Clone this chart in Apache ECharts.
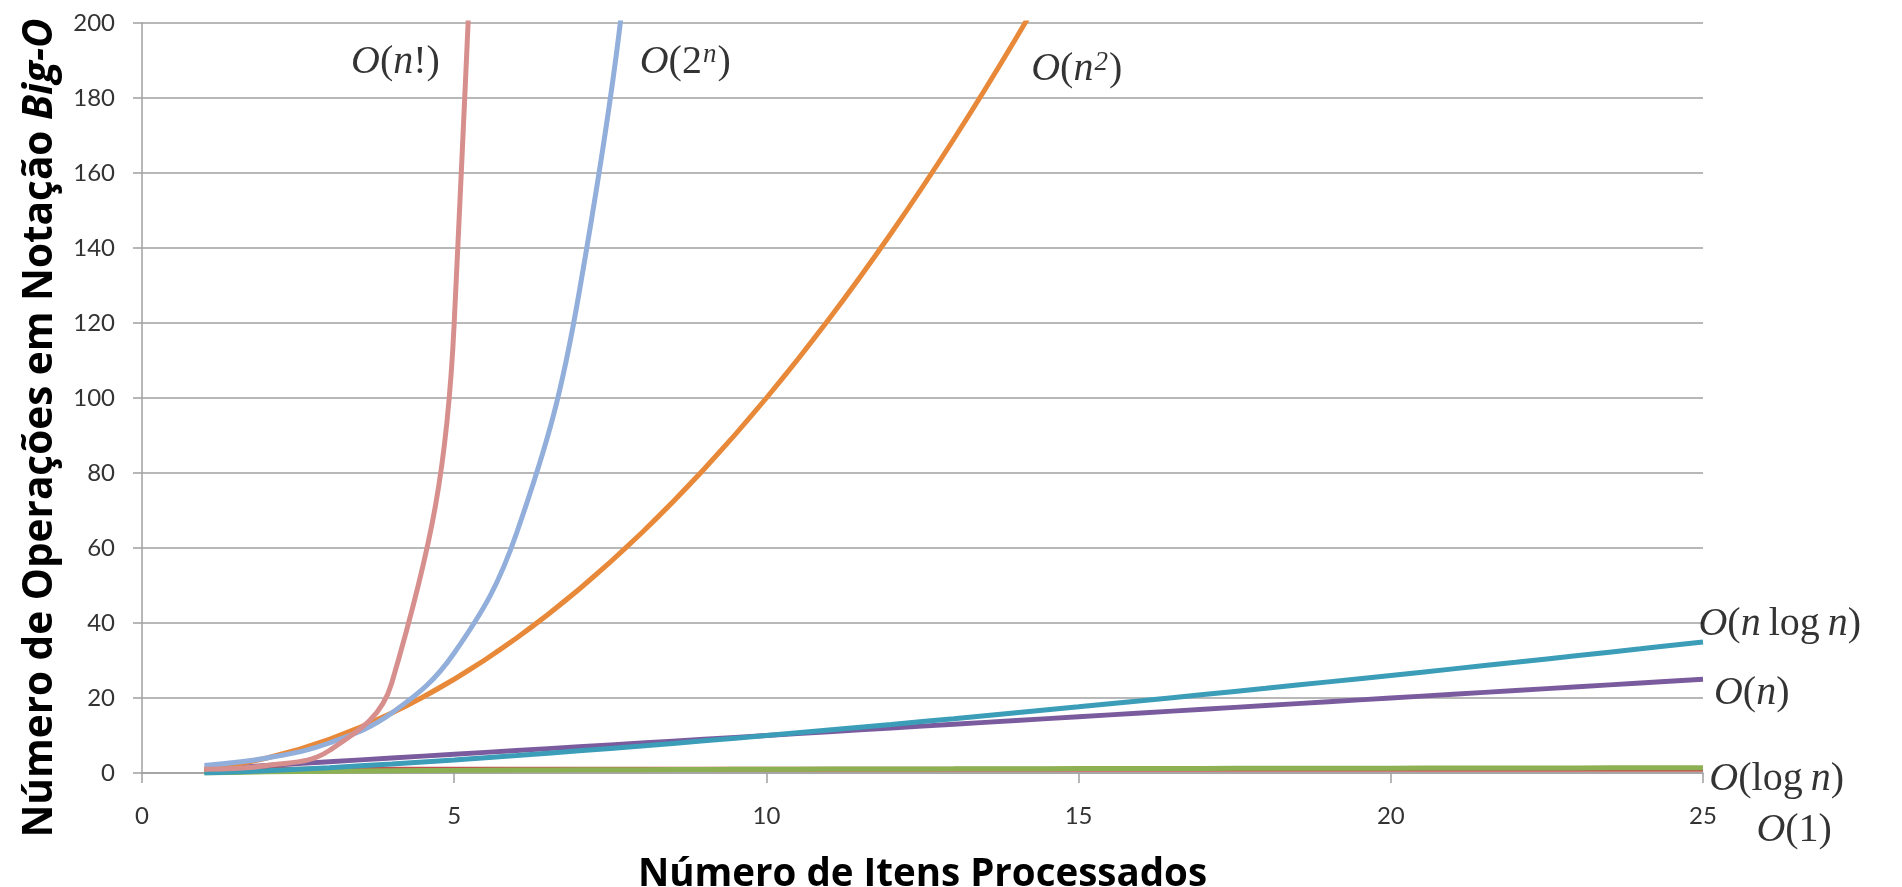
<!DOCTYPE html>
<html>
<head>
<meta charset="utf-8">
<script src="https://cdn.jsdelivr.net/npm/echarts@6/dist/echarts.min.js"></script>
<style>
html,body{margin:0;padding:0;background:#fff;}
#chart{width:1902px;height:887px;}
</style>
</head>
<body>
<div id="chart"></div>
<script>
// ---- data ----
const nValues = [1,2,3,4,5,6,7,8,9,10,11,12,13,14,15,16,17,18,19,20,21,22,23,24,25];
const oConst  = [1,1,1,1,1,1,1,1,1,1,1,1,1,1,1,1,1,1,1,1,1,1,1,1,1];
const oLog    = [0,0.30,0.48,0.60,0.70,0.78,0.85,0.90,0.95,1.00,1.04,1.08,1.11,1.15,1.18,1.20,1.23,1.26,1.28,1.30,1.32,1.34,1.36,1.38,1.40];
const oLinear = [1,2,3,4,5,6,7,8,9,10,11,12,13,14,15,16,17,18,19,20,21,22,23,24,25];
const oNLogN  = [0,0.60,1.43,2.41,3.49,4.67,5.92,7.22,8.59,10,11.46,12.95,14.48,16.05,17.64,19.27,20.92,22.59,24.30,26.02,27.77,29.53,31.32,33.12,34.95];
const oSquare = [1,4,9,16,25,36,49,64,81,100,121,144,169,196,225,256,289,324,361,400,441,484,529,576,625];
const oPow2   = [2,4,8,16,32,64,128,256,512,1024];
const oFact   = [1,2,6,24,120,720,5040];

const xTicks = [0,5,10,15,20,25];
const yTicks = [0,20,40,60,80,100,120,140,160,180,200];

const seriesNames = ['O(1)','O(log n)','O(n)','O(n log n)','O(n²)','O(2ⁿ)','O(n!)'];
const seriesValues = [oConst,oLog,oLinear,oNLogN,oSquare,oPow2,oFact];

const xTitle = 'Número de Itens Processados';
const yTitle = 'Número de Operações em Notação {b|Big-O}';

// label anchors (data coordinates) for the curve annotations
const labelTexts = [
  '{i|O}{r|(}{i|n}{r|!)}',
  '{i|O}{r|(2}{s|n}{r|)}',
  '{i|O}{r|(}{i|n}{s|2}{r|)}',
  '{i|O}{r|(}{i|n}{r|\u2009log\u2009}{i|n}{r|)}',
  '{i|O}{r|(}{i|n}{r|)}',
  '{i|O}{r|(log\u2009}{i|n}{r|)}',
  '{i|O}{r|(1)}'
];
const labelAnchors = [[4.06,189.5],[8.70,189.5],[14.97,187.5],[26.23,39.6],[25.78,21.2],[26.18,-1.8],[26.46,-15.4]];

// ---- styles ----
const colors = ['#C0504D','#8DB152','#7A5C9E','#3B9DB7','#E8893A','#92AEDA','#D68F8D'];
const gridColor = '#a0a0a0';
const labelFont = 'Lato, "Open Sans", sans-serif';
const titleFont = '"Open Sans", Lato, sans-serif';
const mathFont = '"Liberation Serif", "DejaVu Serif", serif';

const chart = echarts.init(document.getElementById('chart'));

const lineSeries = seriesNames.map((name, k) => ({
  name: name,
  type: 'line',
  data: seriesValues[k].map((v, i) => [nValues[i], v]),
  showSymbol: false,
  symbol: 'none',
  smooth: 0.4,
  clip: true,
  lineStyle: { color: colors[k], width: 5 },
  itemStyle: { color: colors[k] },
  z: 2 + k,
  silent: true
}));

const richMath = {
  i: { fontFamily: mathFont, fontStyle: 'italic', fontSize: 40, color: '#000' },
  r: { fontFamily: mathFont, fontSize: 40, color: '#000' },
  s: { fontFamily: mathFont, fontStyle: 'italic', fontSize: 27, color: '#000', verticalAlign: 'top', padding: [0,1,14,1] }
};

const labelSeries = {
  type: 'scatter',
  clip: false,
  symbolSize: 1,
  silent: true,
  itemStyle: { color: 'rgba(0,0,0,0)' },
  z: 20,
  data: labelAnchors.map((p, k) => ({
    value: p,
    label: {
      show: true,
      position: 'inside',
      formatter: labelTexts[k],
      rich: richMath
    }
  }))
};

chart.setOption({
  animation: false,
  backgroundColor: '#ffffff',
  grid: { left: 142, right: 199, top: 23, bottom: 114, containLabel: false, outerBoundsMode: 'none' },
  graphic: [{
    type: 'text',
    x: 40, y: 428,
    rotation: Math.PI / 2,
    silent: true,
    style: {
      text: yTitle,
      fontFamily: titleFont, fontWeight: 'bold', fontSize: 40.5, fill: '#000',
      align: 'center', verticalAlign: 'middle',
      rich: { b: { fontFamily: titleFont, fontWeight: 'bold', fontStyle: 'italic', fontSize: 40.5, fill: '#000', color: '#000' } }
    }
  }],
  xAxis: {
    type: 'value',
    min: 0, max: 25, interval: 5,
    name: xTitle,
    nameLocation: 'middle',
    nameGap: 83,
    nameTextStyle: { fontFamily: titleFont, fontWeight: 'bold', fontSize: 38.5, color: '#000' },
    axisLine: { show: true, onZero: false, lineStyle: { color: gridColor, width: 1.5 } },
    axisTick: { show: true, inside: false, length: 10, lineStyle: { color: gridColor, width: 1.5 } },
    axisLabel: { margin: 31, fontFamily: labelFont, fontSize: 24, color: '#333',
      formatter: v => xTicks.includes(v) ? String(v) : '' },
    splitLine: { show: false }
  },
  yAxis: {
    type: 'value',
    min: 0, max: 200, interval: 20,
    axisLine: { show: true, lineStyle: { color: gridColor, width: 1.5 } },
    axisTick: { show: true, inside: false, length: 9, lineStyle: { color: gridColor, width: 1.5 } },
    axisLabel: { margin: 27, fontFamily: labelFont, fontSize: 24, color: '#333',
      formatter: v => yTicks.includes(v) ? String(v) : '' },
    splitLine: { show: true, lineStyle: { color: gridColor, width: 1.5 } }
  },
  series: lineSeries.concat([labelSeries])
});
</script>
</body>
</html>
